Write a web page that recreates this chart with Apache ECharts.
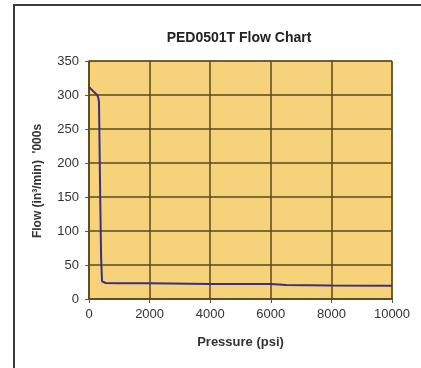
<!DOCTYPE html>
<html>
<head>
<meta charset="utf-8">
<script src="https://cdn.jsdelivr.net/npm/echarts@6/dist/echarts.min.js"></script>
<style>
html,body{margin:0;padding:0;background:#fff;}
#c{width:421px;height:368px;}
</style>
</head>
<body>
<div id="c"></div>
<script>
const titleText = 'PED0501T Flow Chart';
const xAxisName = 'Pressure (psi)';
const yAxisName = "Flow (in\u00B3/min)  '000s";
const pressure = [0, 150, 270, 300, 330, 370, 400, 430, 550, 1000, 2000, 4000, 6000, 6500, 8000, 10000];
const flow =     [312, 305, 300, 297, 290, 150, 60, 26, 23.5, 23, 23, 22, 22, 20.5, 20, 19.5];

const chart = echarts.init(document.getElementById('c'), null, {renderer: 'canvas'});
const font = 'Liberation Sans, Arial, sans-serif';
chart.setOption({
  animation: false,
  backgroundColor: '#ffffff',
  title: {
    text: titleText,
    left: 234, top: 26, textAlign: 'center',
    textStyle: {fontFamily: font, fontSize: 14, fontWeight: 'bold', color: '#222'}
  },
  grid: {
    left: 89, right: 29, top: 61, bottom: 69,
    show: true, backgroundColor: '#F6D27A', borderColor: '#6a5828', borderWidth: 1
  },
  xAxis: {
    type: 'value', min: 0, max: 10000, interval: 2000,
    name: xAxisName, nameLocation: 'middle', nameGap: 37,
    nameTextStyle: {fontFamily: font, fontSize: 13, fontWeight: 'bold', color: '#333'},
    axisLine: {show: true, lineStyle: {color: '#5a4a1e', width: 1.5}},
    axisTick: {show: true, length: 4, lineStyle: {color: '#555'}},
    axisLabel: {fontFamily: font, fontSize: 13, color: '#333', margin: 9, formatter: v => String(v)},
    splitLine: {show: true, lineStyle: {color: '#5a4a1e', width: 1.5}}
  },
  yAxis: {
    type: 'value', min: 0, max: 350, interval: 50,
    axisLine: {show: true, lineStyle: {color: '#5a4a1e', width: 1.5}},
    axisTick: {show: true, length: 4, lineStyle: {color: '#555'}},
    axisLabel: {fontFamily: font, fontSize: 13, color: '#333', margin: 10},
    splitLine: {show: true, lineStyle: {color: '#5a4a1e', width: 1.5}}
  },
  graphic: [
    {type: 'polyline', shape: {points: [[14, 368], [14, 5], [421, 5]]}, style: {stroke: '#3a3a3a', lineWidth: 2, fill: null}, z: 10},
    {type: 'text', x: 38, y: 181, rotation: Math.PI / 2,
     style: {text: yAxisName, fontFamily: font, fontSize: 12, fontWeight: 'bold', fill: '#333', align: 'center', verticalAlign: 'middle'}}
  ],
  series: [{
    type: 'line',
    data: pressure.map((p, i) => [p, flow[i]]),
    showSymbol: false,
    lineStyle: {color: '#3b2f7e', width: 2}
  }]
});
</script>
</body>
</html>
